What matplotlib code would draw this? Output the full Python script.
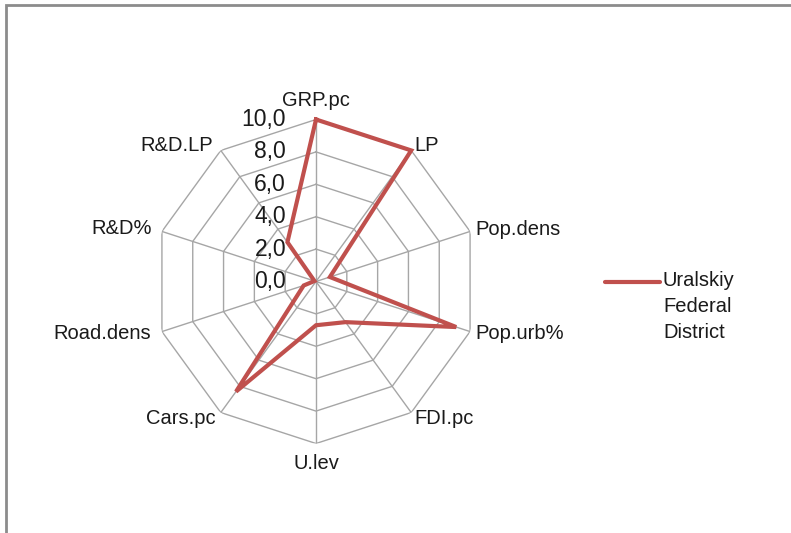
import numpy as np
import matplotlib
matplotlib.use("Agg")
import matplotlib.pyplot as plt
from matplotlib.lines import Line2D
from matplotlib.patches import Rectangle

# ----------------------------------
# Data
# ----------------------------------
categories = ["GRP.pc", "LP", "Pop.dens", "Pop.urb%", "FDI.pc",
              "U.lev", "Cars.pc", "Road.dens", "R&D%", "R&D.LP"]
values = [10.0, 10.0, 0.9, 9.1, 3.1, 2.7, 8.4, 0.8, 0.1, 3.0]
series_name = "Uralskiy\nFederal\nDistrict"
ring_values = [2, 4, 6, 8, 10]
tick_labels = ["0,0", "2,0", "4,0", "6,0", "8,0", "10,0"]

line_color = "#C0504D"
grid_color = "#A6A6A6"
plt.rcParams['font.family'] = ['Liberation Sans', 'DejaVu Sans']

# ----------------------------------
# Figure / axes
# ----------------------------------
W, H = 791, 533
fig = plt.figure(figsize=(W / 100, H / 100), dpi=100)
cx, cy, R = 316, 281.5, 162
ax = fig.add_axes([(cx - R) / W, 1 - (cy + R) / H, 2 * R / W, 2 * R / H],
                  projection="polar")
ax.set_theta_zero_location("N")
ax.set_theta_direction(-1)
ax.set_ylim(0, 10)
ax.grid(False)
ax.spines["polar"].set_visible(False)
ax.set_xticks([])
ax.set_yticks([])
ax.patch.set_alpha(0)

n = len(categories)
angles = np.arange(n) * 2 * np.pi / n
closed = np.append(angles, angles[0])

# polygon rings
for rv in ring_values:
    ax.plot(closed, [rv] * (n + 1), color=grid_color, lw=1, zorder=1)
# spokes
for a in angles:
    ax.plot([a, a], [0, 10], color=grid_color, lw=1, zorder=1)

# series
ax.plot(closed, values + values[:1], color=line_color, lw=3,
        solid_joinstyle="miter", zorder=3, clip_on=False)

# radial tick labels
for i, t in enumerate(tick_labels):
    ax.annotate(t, xy=(0, i * 2), xytext=(-30, 0), textcoords="offset pixels",
                ha="right", va="center", fontsize=16.5, color="#1a1a1a")

# category labels
offsets = [(0, 19, "center"), (3, 5, "left"), (5, 2, "left"), (5, -2, "left"),
           (3, -6, "left"), (0, -20, "center"), (-5, -6, "right"),
           (-11, -2, "right"), (-10, 3, "right"), (-8, 5, "right")]
for a, lab, (dx, dy, ha) in zip(angles, categories, offsets):
    ax.annotate(lab, xy=(a, 10), xytext=(dx, dy), textcoords="offset pixels",
                ha=ha, va="center", fontsize=14.5, color="#1a1a1a",
                annotation_clip=False)

# legend
fig.add_artist(Line2D([605 / W, 660 / W], [1 - 282 / H, 1 - 282 / H],
                      color=line_color, lw=3, solid_capstyle="round"))
fig.text(663 / W, 1 - 271 / H, series_name, ha="left", va="top",
         fontsize=14.5, linespacing=1.45, color="#1a1a1a")

# chart border
fig.add_artist(Rectangle((6 / W, -0.1), 1.2, 1 - 5 / H + 0.1,
                         transform=fig.transFigure, fill=False,
                         edgecolor="#8C8C8C", lw=2))

fig.savefig("out.png", dpi=100)
